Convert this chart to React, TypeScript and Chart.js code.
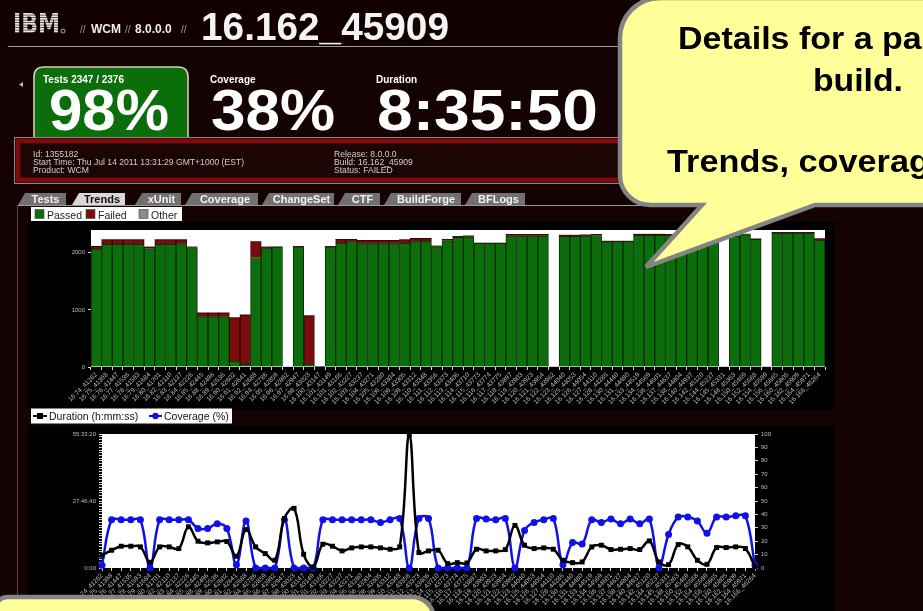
import React, { useEffect, useRef } from "react";
import { Chart, registerables } from "chart.js";

Chart.register(...registerables);

const FONT = "'Liberation Sans', Arial, Helvetica, sans-serif";
Chart.defaults.font.family = FONT;

const buildLabels = [
  "16.74_41262", "16.75_41398", "16.76_41447", "16.77_41536", "16.78_41593", "16.79_41684", "16.80_41701", "16.82_42110", "16.83_42137", "16.84_42226",
  "16.85_42445", "16.88_42496", "16.89_42536", "16.90_42602", "16.91_42641", "16.92_42688", "16.94_42786", "16.95_42859", "16.96_42892", "16.97_42947",
  "16.98_43023", "16.100_43147", "16.101_43149", "16.101_43166", "16.102_43227", "16.103_43237", "16.104_43271", "16.105_43280", "16.106_43304", "16.108_43305",
  "16.109_43312", "16.110_43348", "16.111_43356", "16.112_43373", "16.113_43406", "16.114_43710", "16.115_43773", "16.116_43774", "16.117_43775", "16.118_43897",
  "16.119_43903", "16.120_43923", "16.121_43954", "16.122_43962", "16.123_44040", "16.125_44053", "16.126_44054", "16.127_44110", "16.128_44286", "16.130_44440",
  "16.131_44480", "16.133_44519", "16.134_44569", "16.136_44601", "16.137_44637", "16.138_44804", "16.140_44937", "16.142_45120", "16.144_45237", "16.145_45331",
  "16.148_45363", "16.150_45469", "16.152_45568", "16.154_45599", "16.156_45665", "16.160_45805", "16.162_45909", "16.164_45971", "16.166_46264",
];

const barSeriesNames = ["Passed", "Failed", "Other"];

const passedTests = [
  2069, 2150, 2150, 2150, 2150, 2075, 2150, 2150, 2160, 2092,
  882, 882, 882, 104, 46, 1919, 2086, 2100, 0, 2104,
  52, 10, 2104, 2173, 2196, 2161, 2161, 2161, 2161, 2173,
  2196, 2207, 2110, 2215, 2270, 2280, 2165, 2165, 2165, 2300,
  2300, 2300, 2300, 0, 2290, 2290, 2297, 2303, 2195, 2195,
  2195, 2305, 2305, 2305, 2310, 2310, 2300, 2300, 2290, 0,
  2290, 2320, 2235, 0, 2345, 2345, 2345, 2345, 2225,
];

const failedTests = [
  46, 80, 80, 80, 80, 29, 80, 80, 70, 12,
  69, 69, 69, 761, 870, 277, 18, 4, 0, 11,
  847, 0, 11, 63, 40, 58, 58, 58, 58, 57,
  57, 46, 11, 21, 18, 20, 8, 8, 8, 23,
  23, 23, 23, 0, 21, 21, 20, 20, 12, 12,
  12, 23, 23, 23, 15, 15, 15, 15, 15, 0,
  10, 10, 10, 0, 15, 15, 15, 15, 25,
];

const otherTests = [
  0, 0, 0, 0, 0, 0, 0, 0, 0, 0,
  0, 0, 0, 0, 0, 0, 0, 0, 0, 0,
  0, 0, 0, 0, 0, 0, 0, 0, 0, 0,
  0, 0, 0, 0, 0, 0, 0, 0, 0, 0,
  0, 0, 0, 0, 0, 0, 0, 0, 0, 0,
  0, 0, 0, 0, 0, 0, 0, 0, 0, 0,
  0, 0, 0, 0, 0, 0, 0, 0, 0,
];

const barYTicks = [0, 1000, 2000];

const lineSeriesNames = ["Duration (h:mm:ss)", "Coverage (%)"];

// duration in seconds
const durationSeconds = [
  19000, 26500, 32500, 32500, 31500, 8500, 31500, 31500, 29000, 61500,
  40000, 37500, 39000, 39500, 17500, 57500, 31500, 21500, 11500, 74000,
  89000, 20500, 1500, 35500, 32500, 25500, 30000, 31500, 31500, 30000,
  28000, 31500, 199000, 23000, 25500, 26500, 6500, 8000, 7500, 28000,
  25500, 25500, 27500, 63500, 34000, 29000, 30000, 28000, 11500, 8000,
  9000, 31500, 34000, 27500, 28000, 29000, 27500, 40500, 9000, 5000,
  35000, 31500, 11500, 5500, 30500, 30500, 31500, 29000, 1500,
];

const coveragePercent = [
  2, 36, 36, 36, 36, 0, 36, 36, 36, 36,
  29.5, 29.5, 33, 29.5, 2.5, 35, 0, 0, 0, 36,
  0, 0, 0, 36, 36, 36, 36, 36, 36, 34,
  36, 37, 0, 37, 37, 0, 0, 0, 0, 37,
  36.5, 36, 37, 0, 28, 34, 36, 37, 2.5, 19,
  18, 36, 34, 36.5, 33, 36.5, 33, 36.5, 0, 25,
  38, 38, 35, 26, 38, 38, 39, 39, 2,
];

const durationLabelledTicks = [0, 100000, 200000];

const tabNames = ["Tests", "Trends", "xUnit", "Coverage", "ChangeSet", "CTF", "BuildForge", "BFLogs"];
const activeTab = "Trends";

const infoLeft = ["Id: 1355182", "Start Time: Thu Jul 14 2011 13:31:29 GMT+1000 (EST)", "Product: WCM"];
const infoRight = ["Release: 8.0.0.0", "Build: 16.162_45909", "Status: FAILED"];

function fmtHMS(v: number) {
  if (v === 0) return "0:00";
  const h = Math.floor(v / 3600);
  const m = Math.floor((v % 3600) / 60);
  const s = Math.round(v % 60);
  return `${h}:${String(m).padStart(2, "0")}:${String(s).padStart(2, "0")}`;
}

const bgPlugin = {
  id: "panelBg",
  beforeDraw(chart: any) {
    const { ctx, chartArea: a, width, height } = chart;
    ctx.save();
    ctx.fillStyle = "#000000";
    ctx.fillRect(0, 0, width, height);
    ctx.fillStyle = "#ffffff";
    ctx.fillRect(a.left, a.top, a.right - a.left, a.bottom - a.top);
    ctx.restore();
  },
};

const TICK_COLOR = "#bdbdbd";
const xTickOpts = {
  color: TICK_COLOR,
  font: { size: 6.5, family: FONT },
  minRotation: 45,
  maxRotation: 45,
  autoSkip: false,
  padding: 1,
};
const gridOpts = { drawOnChartArea: false, color: "#d8d8d8", tickLength: 3 };

function BarChart() {
  const ref = useRef<HTMLCanvasElement>(null);
  useEffect(() => {
    const chart = new Chart(ref.current as HTMLCanvasElement, {
      type: "bar",
      data: {
        labels: buildLabels,
        datasets: [
          { label: barSeriesNames[0], data: passedTests, backgroundColor: "#0b6e0b", borderColor: "#0c2a0c", borderWidth: 1 },
          { label: barSeriesNames[1], data: failedTests, backgroundColor: "#7a0c0c", borderColor: "#2c0606", borderWidth: 1 },
          { label: barSeriesNames[2], data: otherTests, backgroundColor: "#8a8a8a", borderWidth: 0 },
        ],
      },
      options: {
        animation: false,
        responsive: false,
        layout: { padding: { top: 9, right: 10, left: 0, bottom: 0 } },
        plugins: { legend: { display: false }, tooltip: { enabled: false } },
        datasets: { bar: { barPercentage: 1, categoryPercentage: 1 } },
        scales: {
          x: {
            stacked: true,
            grid: gridOpts,
            border: { display: false },
            ticks: xTickOpts,
            afterFit: (s: any) => { s.height = 43; },
          },
          y: {
            stacked: true,
            min: 0,
            max: 2400,
            grid: gridOpts,
            border: { display: false },
            ticks: { color: TICK_COLOR, font: { size: 6, family: FONT }, padding: 3, callback: (v: any) => String(v) },
            afterBuildTicks: (s: any) => { s.ticks = barYTicks.map((v) => ({ value: v })); },
            afterFit: (s: any) => { s.width = 63; },
          },
        },
      } as any,
      plugins: [bgPlugin],
    });
    return () => chart.destroy();
  }, []);
  return <canvas ref={ref} width={807} height={189} style={{ display: "block", width: 807, height: 189 }} />;
}

function LineChart() {
  const ref = useRef<HTMLCanvasElement>(null);
  useEffect(() => {
    const chart = new Chart(ref.current as HTMLCanvasElement, {
      type: "line",
      data: {
        labels: buildLabels,
        datasets: [
          {
            label: lineSeriesNames[0],
            data: durationSeconds,
            yAxisID: "y",
            borderColor: "#000000",
            backgroundColor: "#000000",
            borderWidth: 2.5,
            pointStyle: "rect",
            pointRadius: 3.5,
            pointBackgroundColor: "#000000",
            pointBorderWidth: 0,
            tension: 0.4,
            clip: 8,
          },
          {
            label: lineSeriesNames[1],
            data: coveragePercent,
            yAxisID: "y1",
            borderColor: "#1010e8",
            backgroundColor: "#1010e8",
            borderWidth: 2.5,
            pointStyle: "circle",
            pointRadius: 3.5,
            pointBackgroundColor: "#1010e8",
            pointBorderWidth: 0,
            tension: 0.4,
            clip: 8,
          },
        ],
      },
      options: {
        animation: false,
        responsive: false,
        layout: { padding: { top: 9, right: 0, left: 0, bottom: 0 } },
        plugins: { legend: { display: false }, tooltip: { enabled: false } },
        scales: {
          x: {
            offset: false,
            grid: gridOpts,
            border: { display: false },
            ticks: xTickOpts,
            afterFit: (s: any) => { s.height = 43; },
          },
          y: {
            position: "left",
            min: 0,
            max: 200000,
            grid: gridOpts,
            border: { display: false },
            ticks: {
              stepSize: 4000,
              maxTicksLimit: 100,
              autoSkip: false,
              color: TICK_COLOR,
              font: { size: 6, family: FONT },
              padding: 3,
              callback: (v: any) => (durationLabelledTicks.includes(Number(v)) ? fmtHMS(Number(v)) : ""),
            },
            afterFit: (s: any) => { s.width = 74; },
          },
          y1: {
            position: "right",
            min: 0,
            max: 100,
            grid: gridOpts,
            border: { display: false },
            ticks: { stepSize: 10, color: TICK_COLOR, font: { size: 6, family: FONT }, padding: 3 },
            afterFit: (s: any) => { s.width = 80; },
          },
        },
      } as any,
      plugins: [bgPlugin],
    });
    return () => chart.destroy();
  }, []);
  return <canvas ref={ref} width={807} height={186} style={{ display: "block", width: 807, height: 186 }} />;
}

const tabGeom: [number, number][] = [
  [18, 66], [72, 125], [135, 181], [185, 258], [262, 334], [338, 380], [384, 461], [465, 525],
];

function Overlay() {
  const barColors = ["#0b6e0b", "#7a0c0c", "#8a8a8a"];
  const legendX = [35, 86, 139];
  return (
    <svg width={923} height={611} style={{ position: "absolute", left: 0, top: 0, pointerEvents: "none" }} fontFamily={FONT}>
      <defs>
        <pattern id="ibmStripes" patternUnits="userSpaceOnUse" x="0" y="13" width="4" height="2.5">
          <rect x="0" y="0" width="4" height="1.9" fill="#e8e8e8" />
        </pattern>
      </defs>

      {/* header */}
      <text x={13} y={33} fontFamily="'DejaVu Sans', sans-serif" fontWeight="bold" fontSize={26} fill="url(#ibmStripes)" textLength={47} lengthAdjust="spacingAndGlyphs">IBM</text>
      <circle cx={63} cy={31} r={2} fill="none" stroke="#cfcfcf" strokeWidth={0.8} />
      <text x={80} y={33} fontSize={10} fill="#9a9a9a">//</text>
      <text x={91} y={33} fontSize={12} fontWeight="bold" fill="#eeeeee">WCM</text>
      <text x={125} y={33} fontSize={10} fill="#9a9a9a">//</text>
      <text x={135} y={33} fontSize={12} fontWeight="bold" fill="#eeeeee">8.0.0.0</text>
      <text x={181} y={33} fontSize={10} fill="#9a9a9a">//</text>
      <text x={201} y={40} fontSize={39} fontWeight="bold" fill="#f4f4f4" textLength={248} lengthAdjust="spacingAndGlyphs">16.162_45909</text>
      <line x1={8} y1={46.5} x2={923} y2={46.5} stroke="#9c9c9c" strokeWidth={1} />

      <polygon points="19,84.5 23,82 23,87" fill="#bdbdbd" />

      {/* green tests box */}
      <path d="M 34,138 V 77 Q 34,67 44,67 H 178 Q 188,67 188,77 V 138" fill="#0b6e0b" stroke="#d2cfb2" strokeWidth={1.6} />
      <text x={43} y={83} fontSize={10} fontWeight="bold" fill="#ffffff">Tests 2347 / 2376</text>
      <text x={49} y={130} fontSize={58} fontWeight="bold" fill="#ffffff" textLength={120} lengthAdjust="spacingAndGlyphs">98%</text>

      <text x={210} y={83} fontSize={10} fontWeight="bold" fill="#ffffff">Coverage</text>
      <text x={211} y={130} fontSize={58} fontWeight="bold" fill="#ffffff" textLength={124} lengthAdjust="spacingAndGlyphs">38%</text>
      <text x={376} y={83} fontSize={10} fontWeight="bold" fill="#ffffff">Duration</text>
      <text x={377} y={130} fontSize={58} fontWeight="bold" fill="#ffffff" textLength={221} lengthAdjust="spacingAndGlyphs">8:35:50</text>

      {/* info panel */}
      <rect x={14.5} y={137.5} width={760} height={46} fill="none" stroke="#8a8a8a" strokeWidth={1} />
      <rect x={18} y={141} width={760} height={39} fill="#1b0505" stroke="#7d0b0b" strokeWidth={5} />
      {infoLeft.map((t, i) => (
        <text key={"l" + i} x={33} y={156.5 + i * 8} fontSize={8.6} fill="#cfcfcf">{t}</text>
      ))}
      {infoRight.map((t, i) => (
        <text key={"r" + i} x={334} y={156.5 + i * 8} fontSize={8.6} fill="#cfcfcf">{t}</text>
      ))}

      {/* tabs */}
      {tabNames.map((name, i) => {
        const [x0, x1] = tabGeom[i];
        const active = name === activeTab;
        return (
          <g key={name}>
            <polygon points={`${x0},205 ${x0 + 7},193 ${x1},193 ${x1},205`} fill={active ? "#d9d9d9" : "#707070"} />
            <text x={(x0 + 7 + x1) / 2} y={203} textAnchor="middle" fontSize={11} fontWeight="bold" fill={active ? "#111111" : "#f2f2f2"}>{name}</text>
          </g>
        );
      })}
      <line x1={17} y1={205.5} x2={835} y2={205.5} stroke="#9a9a9a" strokeWidth={1} />
      <line x1={17.5} y1={205} x2={17.5} y2={611} stroke="#5c4242" strokeWidth={1} />

      {/* bar legend */}
      <rect x={31} y={207} width={151} height={14} fill="#ffffff" />
      {barSeriesNames.map((n, i) => (
        <g key={n}>
          <rect x={legendX[i]} y={209.5} width={9} height={9} fill={barColors[i]} stroke="#444" strokeWidth={0.6} />
          <text x={legendX[i] + 12} y={218.5} fontSize={10.5} fill="#222222">{n}</text>
        </g>
      ))}

      {/* line legend */}
      <rect x={31} y={408.5} width={201} height={15} fill="#ffffff" />
      <line x1={33} y1={416} x2={47} y2={416} stroke="#000" strokeWidth={2} />
      <rect x={37} y={413} width={6} height={6} fill="#000" />
      <text x={49} y={420} fontSize={10.5} fill="#111111">{lineSeriesNames[0]}</text>
      <line x1={149} y1={416} x2={162} y2={416} stroke="#1010e8" strokeWidth={2} />
      <circle cx={155.5} cy={416} r={3.2} fill="#1010e8" />
      <text x={164} y={420} fontSize={10.5} fill="#111111">{lineSeriesNames[1]}</text>

      {/* callouts */}
      <path d="M 660,-2 H 1000 V 205 H 815 L 646,267 L 702,205 H 650 A 30 30 0 0 1 620,175 V 38 A 40 40 0 0 1 660,-2 Z" fill="#ffff99" stroke="#848484" strokeWidth={4.5} />
      <text x={678} y={49} fontSize={31} fontWeight="bold" fill="#000" textLength={359} lengthAdjust="spacingAndGlyphs">Details for a particular</text>
      <text x={813} y={91} fontSize={31} fontWeight="bold" fill="#000" textLength={90} lengthAdjust="spacingAndGlyphs">build.</text>
      <text x={667} y={172} fontSize={31} fontWeight="bold" fill="#000" textLength={282} lengthAdjust="spacingAndGlyphs">Trends, coverage</text>

      <path d="M -4,640 V 608 A 11 11 0 0 1 7,597 H 412 A 22 22 0 0 1 434,619 V 640 Z" fill="#ffff99" stroke="#848484" strokeWidth={4.5} />
    </svg>
  );
}

export default function App() {
  return (
    <div style={{ position: "absolute", left: 0, top: 0, width: 923, height: 611, overflow: "hidden", background: "#150202", fontFamily: FONT }}>
      <div style={{ position: "absolute", left: 0, top: 0, width: 923, height: 50, background: "#120000" }} />
      <div style={{ position: "absolute", left: 28, top: 221 }}>
        <BarChart />
      </div>
      <div style={{ position: "absolute", left: 28, top: 425 }}>
        <LineChart />
      </div>
      <Overlay />
    </div>
  );
}
